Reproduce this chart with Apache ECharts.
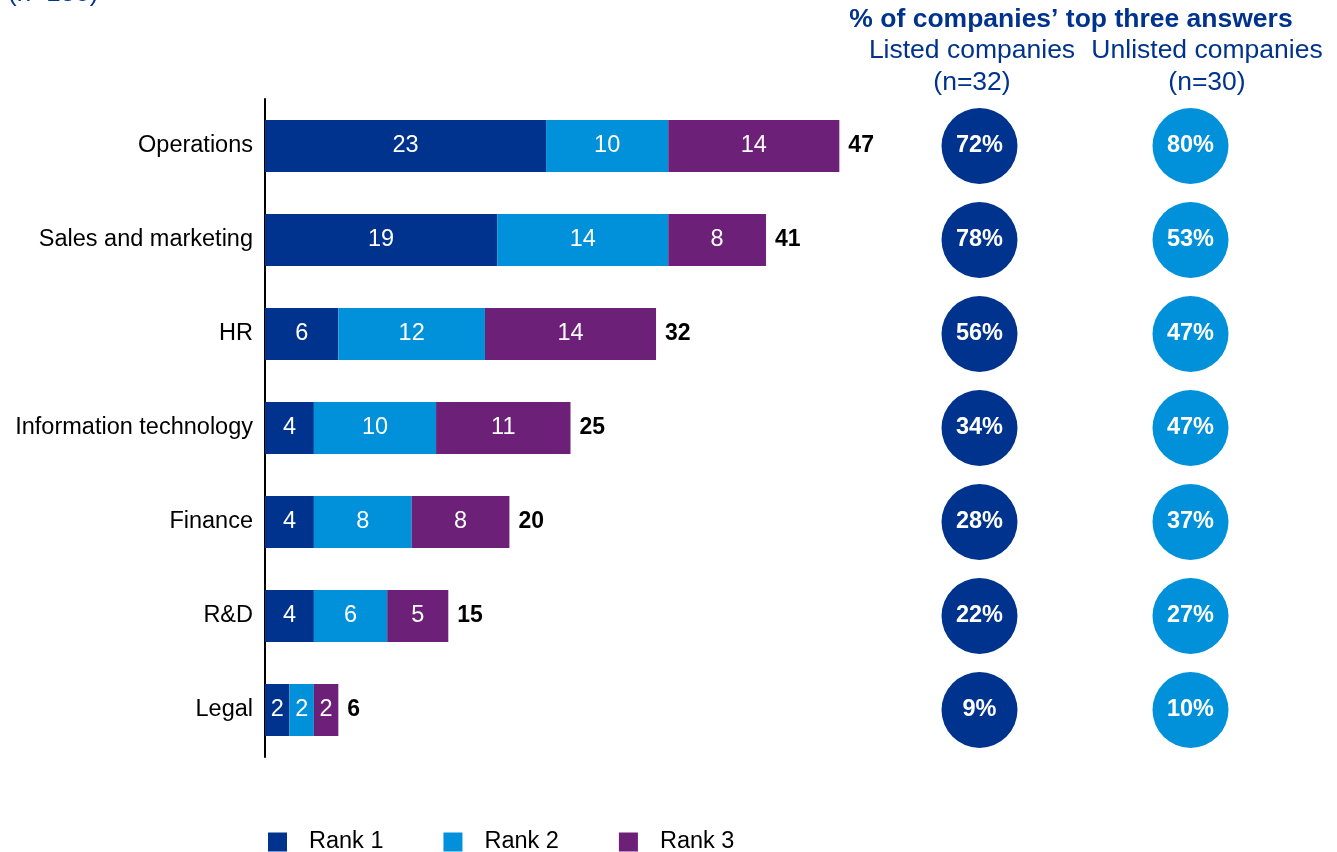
<!DOCTYPE html>
<html>
<head>
<meta charset="utf-8">
<script src="https://cdn.jsdelivr.net/npm/echarts@6/dist/echarts.min.js"></script>
<style>
  html, body { margin: 0; padding: 0; background: #fff; }
  #chart { width: 1337px; height: 852px; }
</style>
</head>
<body>
<div id="chart"></div>
<script>
// Functions ranked among companies' top three answers
const categories = ['Operations', 'Sales and marketing', 'HR', 'Information technology', 'Finance', 'R&D', 'Legal'];
const rank1 = [23, 19, 6, 4, 4, 4, 2];
const rank2 = [10, 14, 12, 10, 8, 6, 2];
const rank3 = [14, 8, 14, 11, 8, 5, 2];
// Share of companies naming each function in their top three
const listedPct = [72, 78, 56, 34, 28, 22, 9];
const unlistedPct = [80, 53, 47, 47, 37, 27, 10];
const groups = ['Listed companies', 'Unlisted companies'];

const totals = categories.map((_, i) => rank1[i] + rank2[i] + rank3[i]);

const NAVY = '#00338D';
const LIGHT = '#0091DA';
const PURPLE = '#6D2077';
const FONT = '"Liberation Sans", Arial, sans-serif';
const FS = 23.5;

const chart = echarts.init(document.getElementById('chart'));

const insideLabel = {
  show: true, position: 'inside', color: '#fff', fontSize: FS, fontFamily: FONT
};

const circleData = [];
categories.forEach((c, i) => {
  circleData.push({ value: [groups[0], c, listedPct[i]], itemStyle: { color: NAVY } });
  circleData.push({ value: [groups[1], c, unlistedPct[i]], itemStyle: { color: LIGHT } });
});

const headStyle = { fontSize: 26.5, fill: NAVY, fontFamily: FONT, align: 'center', verticalAlign: 'middle' };

chart.setOption({
  animation: false,
  textStyle: { fontFamily: FONT },
  grid: [
    { left: 265, top: 99, width: 611, height: 658 },
    { left: 874, top: 99, width: 422, height: 658 }
  ],
  xAxis: [
    { gridIndex: 0, type: 'value', min: 0, max: 50, show: false },
    { gridIndex: 1, type: 'category', data: groups, show: false }
  ],
  yAxis: [
    {
      gridIndex: 0, type: 'category', data: categories, inverse: true,
      axisLine: { show: true, lineStyle: { color: '#000', width: 2 } },
      axisTick: { show: false },
      axisLabel: { color: '#000', fontSize: FS, margin: 12, fontFamily: FONT }
    },
    { gridIndex: 1, type: 'category', data: categories, inverse: true, show: false }
  ],
  legend: {
    left: 263, top: 825,
    itemWidth: 19, itemHeight: 19, itemGap: 60,
    icon: 'rect',
    textStyle: { fontSize: FS, color: '#000', fontFamily: FONT, padding: [0, 0, 0, 17] },
    data: ['Rank 1', 'Rank 2', 'Rank 3']
  },
  series: [
    { name: 'Rank 1', type: 'bar', stack: 'r', data: rank1, barWidth: 52,
      itemStyle: { color: NAVY }, label: insideLabel },
    { name: 'Rank 2', type: 'bar', stack: 'r', data: rank2, barWidth: 52,
      itemStyle: { color: LIGHT }, label: insideLabel },
    { name: 'Rank 3', type: 'bar', stack: 'r', data: rank3, barWidth: 52,
      itemStyle: { color: PURPLE }, label: insideLabel },
    { name: 'Total', type: 'bar', data: totals, barWidth: 52, barGap: '-100%',
      itemStyle: { color: 'rgba(0,0,0,0)' }, silent: true, z: 1,
      label: { show: true, position: 'right', distance: 9, color: '#000',
        fontSize: 23, fontWeight: 'bold', fontFamily: FONT } },
    { name: 'Share', type: 'scatter', xAxisIndex: 1, yAxisIndex: 1,
      symbol: 'circle', symbolSize: 76, data: circleData,
      itemStyle: { opacity: 1 },
      label: { show: true, position: 'inside', color: '#fff', fontSize: 23.5,
        fontWeight: 'bold', fontFamily: FONT,
        formatter: p => p.value[2] + '%' } }
  ],
  graphic: [
    { type: 'text', left: 8, top: -19,
      style: { text: '(n=180)', fontSize: 26, fill: NAVY, fontFamily: FONT } },
    { type: 'text', x: 1071, y: 20,
      style: Object.assign({}, headStyle, { text: '% of companies’ top three answers', fontWeight: 'bold' }) },
    { type: 'text', x: 972, y: 51,
      style: Object.assign({}, headStyle, { text: 'Listed companies' }) },
    { type: 'text', x: 972, y: 83,
      style: Object.assign({}, headStyle, { text: '(n=32)' }) },
    { type: 'text', x: 1207, y: 51,
      style: Object.assign({}, headStyle, { text: 'Unlisted companies' }) },
    { type: 'text', x: 1207, y: 83,
      style: Object.assign({}, headStyle, { text: '(n=30)' }) }
  ]
});
</script>
</body>
</html>
